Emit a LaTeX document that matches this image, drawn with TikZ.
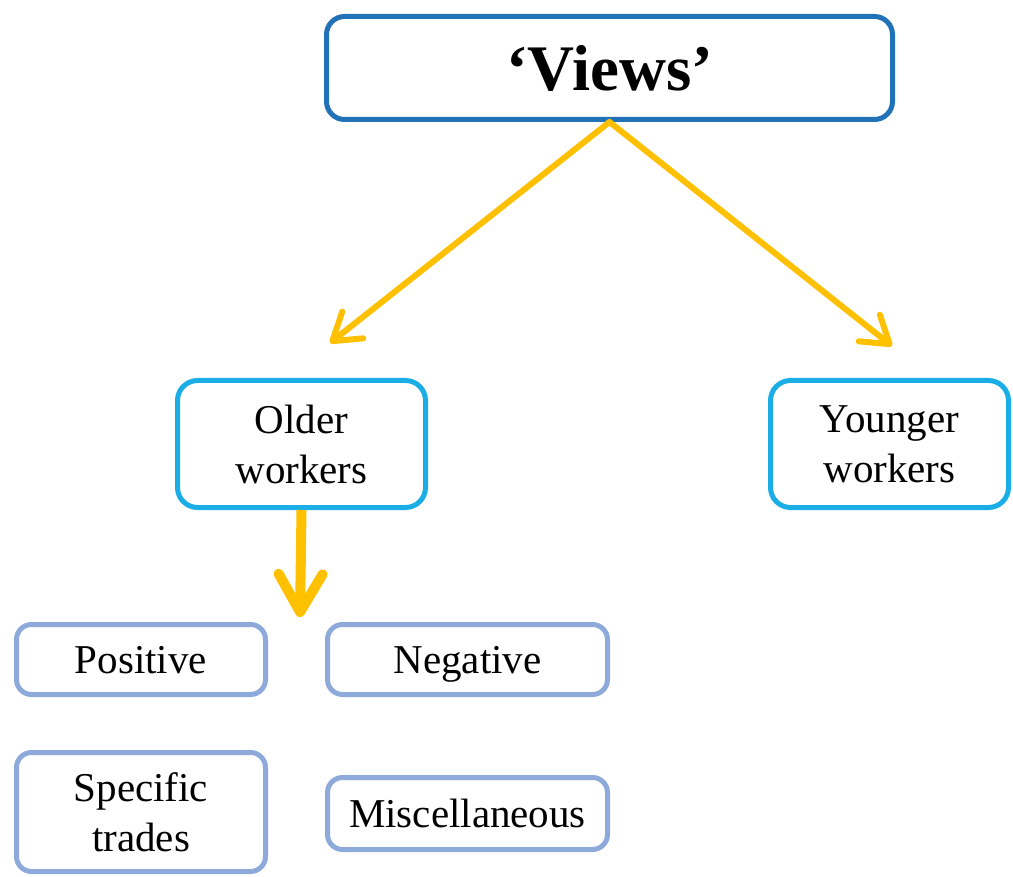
\documentclass[tikz,border=0pt]{standalone}
\usepackage{fontspec}
\setmainfont{Liberation Serif}
\usetikzlibrary{arrows.meta}
\definecolor{topblue}{HTML}{2272B8}
\definecolor{midcyan}{HTML}{1BAEE6}
\definecolor{lowblue}{HTML}{8EAADB}
\definecolor{arrowgold}{HTML}{FFC000}
\tikzset{
  box/.style={draw, fill=white, line width=5pt, inner sep=0pt, align=center,
    font=\fontsize{41}{50}\selectfont},
  oneline/.style={text height=27pt, text depth=0pt},
  topbox/.style={box, draw=topblue, rounded corners=18pt,
    font=\fontsize{65}{70}\selectfont\bfseries},
  midbox/.style={box, draw=midcyan, rounded corners=20pt},
  lowbox/.style={box, draw=lowblue, rounded corners=15pt},
  link/.style={draw=arrowgold, line width=6pt, line cap=round, line join=round,
    -{Straight Barb[length=26pt,width=34pt,line width=6pt,round]}},
  biglink/.style={draw=arrowgold, line width=10pt, line join=round,
    -{Straight Barb[length=38pt,width=44pt,line width=10pt,round]}}
}
\begin{document}
\begin{tikzpicture}[x=1pt,y=1pt]
  \useasboundingbox (0,0) rectangle (1013,-877);

  % top heading
  \node[topbox, minimum width=566pt, minimum height=103pt] (views) at (609.5,-68) {‘Views’};

  % the two groups of workers
  \node[midbox, minimum width=248pt, minimum height=127pt] (older) at (301.5,-444) {Older\\workers};
  \node[midbox, minimum width=238pt, minimum height=127pt] (younger) at (889.5,-444) {Younger\\workers};

  % categories under older workers
  \node[lowbox, oneline, minimum width=249pt, minimum height=70pt] (pos) at (141,-659.5) {Positive};
  \node[lowbox, oneline, minimum width=280pt, minimum height=70pt] (neg) at (467.5,-659.5) {Negative};
  \node[lowbox, minimum width=249pt, minimum height=119pt] (spec) at (141,-812) {Specific\\trades};
  \node[lowbox, oneline, minimum width=280pt, minimum height=72pt] (misc) at (467.5,-813.5) {Miscellaneous};

  % arrow tips
  \coordinate (ltip) at (330,-343);
  \coordinate (rtip) at (892,-346);
  \coordinate (dtip) at (300,-617);

  \draw[link] (views.south) -- (ltip);
  \draw[link] (views.south) -- (rtip);
  \draw[biglink] (older.south) -- (dtip);
\end{tikzpicture}
\end{document}
